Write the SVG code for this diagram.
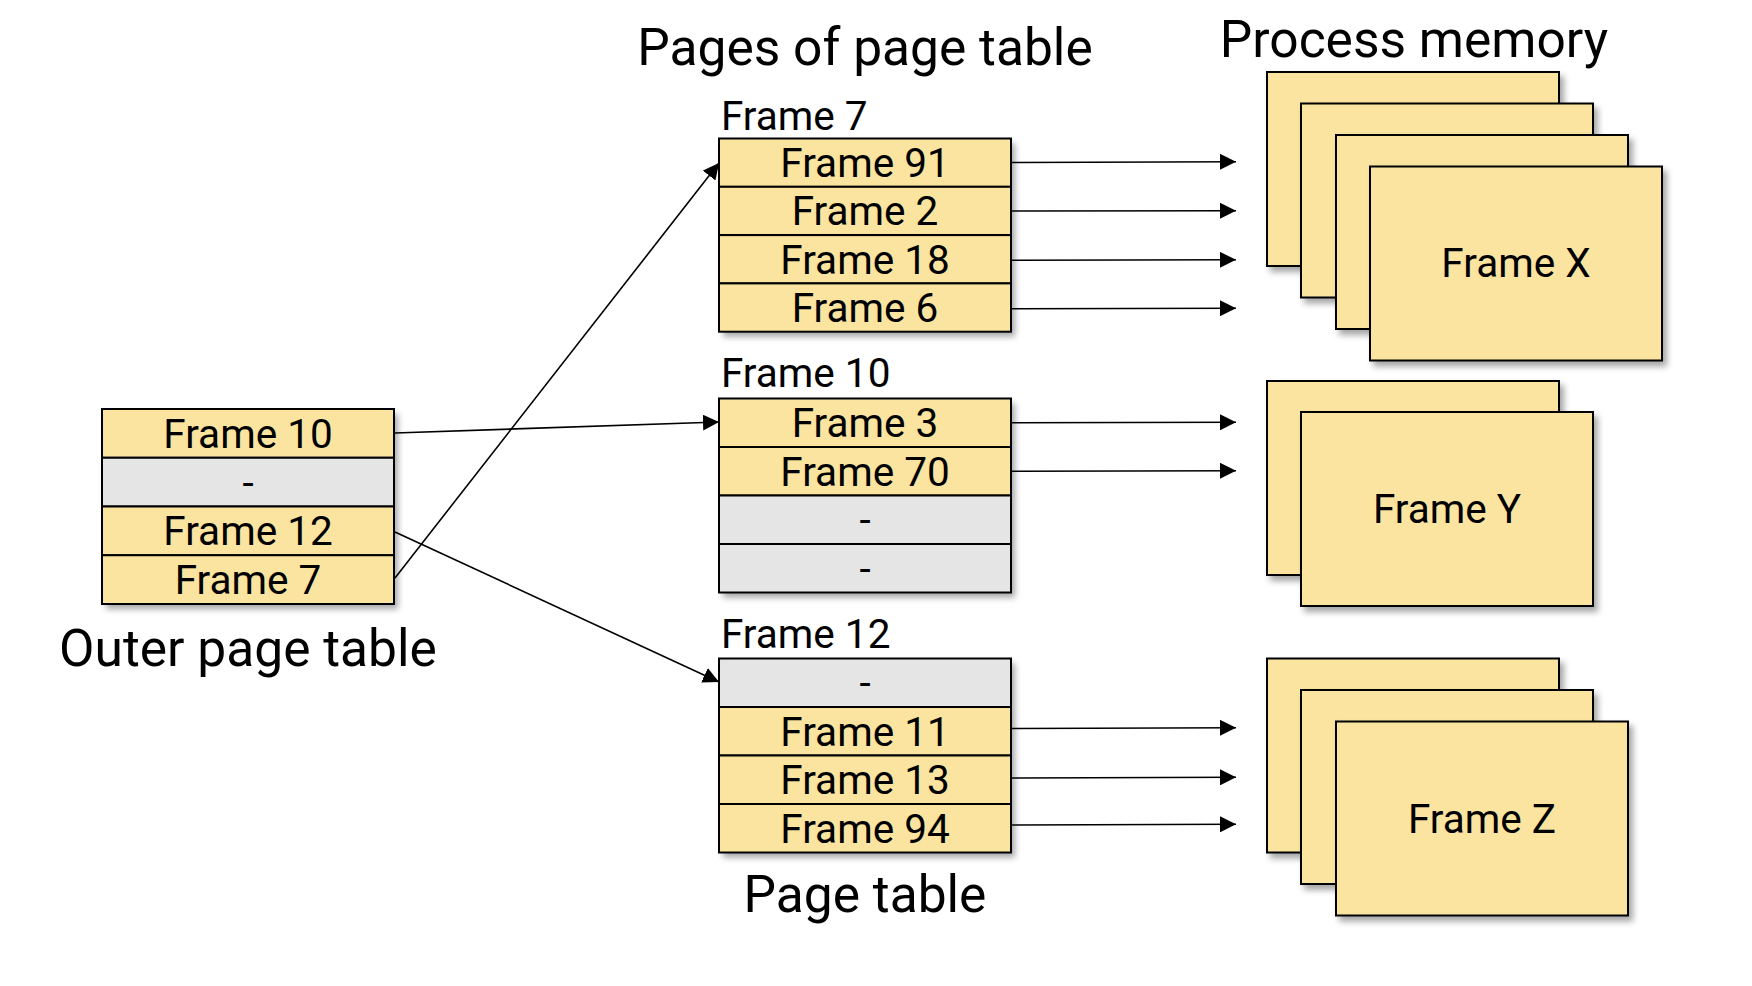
<svg xmlns="http://www.w3.org/2000/svg" width="1752" height="986" viewBox="0 0 1752 986">
  <defs>
    <filter id="shadow" x="-10%" y="-10%" width="130%" height="130%">
      <feDropShadow dx="4" dy="5" stdDeviation="3" flood-color="#000" flood-opacity="0.35"/>
    </filter>
    <marker id="arrow" markerUnits="userSpaceOnUse" markerWidth="16" markerHeight="16" refX="16" refY="8" orient="auto">
      <path d="M0,0 L16,8 L0,16 z" fill="#000"/>
    </marker>
    <style>
      text { font-family: Roboto, "Liberation Sans", sans-serif; fill: #000; }
      .title { font-size: 51.5px; text-anchor: middle; }
      .cell { font-size: 40.5px; text-anchor: middle; }
      .label { font-size: 40.5px; text-anchor: start; }
      .used { fill: #fae4a0; stroke: #000; stroke-width: 2; }
      .empty { fill: #e5e5e5; stroke: #000; stroke-width: 2; }
      .page { fill: #fae4a0; stroke: #000; stroke-width: 2; filter: url(#shadow); }
      .back { fill: #fae4a0; filter: url(#shadow); }
      .link { fill: none; stroke: #000; stroke-width: 1.6; marker-end: url(#arrow); }
    </style>
  </defs>

  <rect width="1752" height="986" fill="#fff"/>

  <!-- Headings -->
  <text class="title" x="865" y="65">Pages of page table</text>
  <text class="title" x="1414" y="57">Process memory</text>
  <text class="title" x="248" y="666">Outer page table</text>
  <text class="title" x="865" y="912">Page table</text>

  <!-- Outer page table -->
  <g id="outer-table">
    <rect class="back" x="102" y="409" width="292" height="195"/>
    <rect class="used" x="102" y="409" width="292" height="48.75"/>
    <rect class="empty" x="102" y="457.75" width="292" height="48.75"/>
    <rect class="used" x="102" y="506.5" width="292" height="48.75"/>
    <rect class="used" x="102" y="555.25" width="292" height="48.75"/>
    <text class="cell" x="248" y="447.8">Frame 10</text>
    <text class="cell" x="248" y="496.5">-</text>
    <text class="cell" x="248" y="545.3">Frame 12</text>
    <text class="cell" x="248" y="594">Frame 7</text>
  </g>

  <!-- Page of page table held in frame 7 -->
  <g id="table-frame7">
    <text class="label" x="721" y="130">Frame 7</text>
    <rect class="back" x="719" y="138.5" width="292" height="193.2"/>
    <rect class="used" x="719" y="138.5" width="292" height="48.3"/>
    <rect class="used" x="719" y="186.8" width="292" height="48.3"/>
    <rect class="used" x="719" y="235.1" width="292" height="48.3"/>
    <rect class="used" x="719" y="283.4" width="292" height="48.3"/>
    <text class="cell" x="865" y="177">Frame 91</text>
    <text class="cell" x="865" y="225.3">Frame 2</text>
    <text class="cell" x="865" y="273.6">Frame 18</text>
    <text class="cell" x="865" y="321.9">Frame 6</text>
  </g>

  <!-- Page of page table held in frame 10 -->
  <g id="table-frame10">
    <text class="label" x="721" y="387">Frame 10</text>
    <rect class="back" x="719" y="398.5" width="292" height="194"/>
    <rect class="used" x="719" y="398.5" width="292" height="48.5"/>
    <rect class="used" x="719" y="447" width="292" height="48.5"/>
    <rect class="empty" x="719" y="495.5" width="292" height="48.5"/>
    <rect class="empty" x="719" y="544" width="292" height="48.5"/>
    <text class="cell" x="865" y="437.1">Frame 3</text>
    <text class="cell" x="865" y="485.6">Frame 70</text>
    <text class="cell" x="865" y="534.1">-</text>
    <text class="cell" x="865" y="582.6">-</text>
  </g>

  <!-- Page of page table held in frame 12 -->
  <g id="table-frame12">
    <text class="label" x="721" y="648">Frame 12</text>
    <rect class="back" x="719" y="658.5" width="292" height="194"/>
    <rect class="empty" x="719" y="658.5" width="292" height="48.5"/>
    <rect class="used" x="719" y="707" width="292" height="48.5"/>
    <rect class="used" x="719" y="755.5" width="292" height="48.5"/>
    <rect class="used" x="719" y="804" width="292" height="48.5"/>
    <text class="cell" x="865" y="697.1">-</text>
    <text class="cell" x="865" y="745.6">Frame 11</text>
    <text class="cell" x="865" y="794.1">Frame 13</text>
    <text class="cell" x="865" y="842.6">Frame 94</text>
  </g>

  <!-- Process memory frames -->
  <g id="frames-x">
    <rect class="page" x="1267" y="72" width="292" height="194"/>
    <rect class="page" x="1301" y="103.5" width="292" height="194"/>
    <rect class="page" x="1336" y="135" width="292" height="194"/>
    <rect class="page" x="1370" y="166.5" width="292" height="194"/>
    <text class="cell" x="1516" y="277">Frame X</text>
  </g>

  <g id="frames-y">
    <rect class="page" x="1267" y="381" width="292" height="194"/>
    <rect class="page" x="1301" y="412" width="292" height="194"/>
    <text class="cell" x="1447" y="522.5">Frame Y</text>
  </g>

  <g id="frames-z">
    <rect class="page" x="1267" y="658.5" width="292" height="194"/>
    <rect class="page" x="1301" y="690" width="292" height="194"/>
    <rect class="page" x="1336" y="721.5" width="292" height="194"/>
    <text class="cell" x="1482" y="832.5">Frame Z</text>
  </g>

  <!-- Connectors -->
  <g id="connectors">
    <line class="link" x1="395" y1="433" x2="719" y2="422"/>
    <line class="link" x1="395" y1="578" x2="719" y2="163"/>
    <line class="link" x1="395" y1="532" x2="719" y2="682"/>

    <line class="link" x1="1011" y1="162.5" x2="1236" y2="161.7"/>
    <line class="link" x1="1011" y1="211" x2="1236" y2="210.7"/>
    <line class="link" x1="1011" y1="260.3" x2="1236" y2="259.8"/>
    <line class="link" x1="1011" y1="308.8" x2="1236" y2="308.2"/>

    <line class="link" x1="1011" y1="422.8" x2="1236" y2="422.3"/>
    <line class="link" x1="1011" y1="471.3" x2="1236" y2="470.7"/>

    <line class="link" x1="1011" y1="728.5" x2="1236" y2="727.7"/>
    <line class="link" x1="1011" y1="778" x2="1236" y2="777.3"/>
    <line class="link" x1="1011" y1="825" x2="1236" y2="824.3"/>
  </g>
</svg>
